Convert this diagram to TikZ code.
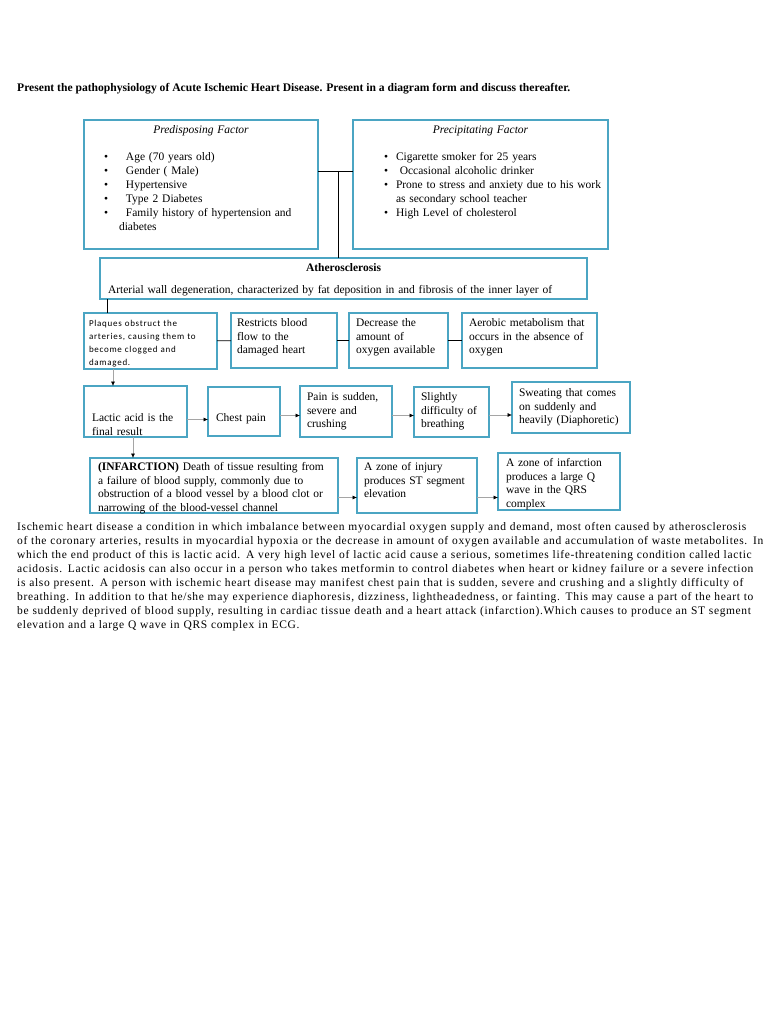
\documentclass[tikz,border=0pt]{standalone}
\usepackage{fontspec}
\setmainfont{Liberation Serif}
\newfontfamily\plaquefont{Carlito}[LetterSpace=8]
\newfontfamily\discussfont{Liberation Serif}[LetterSpace=5.5]
\usetikzlibrary{arrows.meta, positioning}
\definecolor{boxline}{RGB}{75,165,195}
\definecolor{arrowgray}{RGB}{165,165,165}
\newcommand{\factordot}[2]{\hspace*{#1}\makebox[#2][l]{\textbullet}}
\tikzset{
  box/.style={draw=boxline, line width=2.3pt, outer sep=0pt, anchor=north west, align=left, inner ysep=0pt, font=\fontsize{11.5}{13.5}\selectfont},
  dims/.style n args={3}{text width=#1, text height=#2, text depth=#3},
  link/.style={line width=0.8pt},
  flow/.style={-{Latex[length=4.5pt,width=4pt,color=black]}, draw=arrowgray, line width=0.6pt},
  note/.style={anchor=base west, align=left, inner sep=0pt}
}
\begin{document}
\begin{tikzpicture}[x=1pt, y=-1pt]
    \path[fill=white, use as bounding box] (0,0) rectangle (768,1024);

    \node[note, font=\bfseries\fontsize{11.6}{13.5}\selectfont] (title) at (17,91.5) {Present the pathophysiology of Acute Ischemic Heart Disease. Present in a diagram form and discuss thereafter.};

    % factors
    \node[box, inner xsep=8pt, dims={218pt}{13.5pt}{115.5pt}, font=\fontsize{11.5}{14}\selectfont] (pred) at (84,120) {\makebox[\linewidth]{\textit{Predisposing Factor}}\\[13pt]
    \factordot{12pt}{22pt}Age (70 years old)\\
    \factordot{12pt}{22pt}Gender ( Male)\\
    \factordot{12pt}{22pt}Hypertensive\\
    \factordot{12pt}{22pt}Type 2 Diabetes\\
    \factordot{12pt}{22pt}Family history of hypertension and\\
    \hspace*{27pt}diabetes};
    \node[box, inner xsep=7pt, dims={241pt}{13.5pt}{115.5pt}, font=\fontsize{11.5}{14}\selectfont, right=35pt of pred.north east, anchor=north west] (prec) {\makebox[\linewidth]{\textit{Precipitating Factor}}\\[13pt]
    \factordot{24pt}{12pt}Cigarette smoker for 25 years\\
    \factordot{24pt}{12pt} Occasional alcoholic drinker\\
    \factordot{24pt}{12pt}\mbox{Prone to stress and anxiety due to his work}\\
    \hspace*{36pt}as secondary school teacher\\
    \factordot{24pt}{12pt}High Level of cholesterol};

    \node[box, inner xsep=8pt, dims={471pt}{13.5pt}{27.5pt}, below=9pt of pred.south west, anchor=north west, xshift=16pt] (athero) {\makebox[\linewidth]{\textbf{Atherosclerosis}}\\[8pt]
    Arterial wall degeneration, characterized by fat deposition in and fibrosis of the inner layer of};

    % second row
    \node[box, inner xsep=5pt, dims={123pt}{13pt}{43pt}, font=\plaquefont\fontsize{9}{13}\selectfont] (plaques) at (84,313) {Plaques obstruct the\\arteries, causing them to\\become clogged and\\damaged.};
    \node[box, inner xsep=6pt, dims={94pt}{13.5pt}{41.5pt}, right=14pt of plaques.north east, anchor=north west] (restrict) {Restricts blood\\flow to the\\damaged heart};
    \node[box, inner xsep=7pt, dims={85pt}{13.5pt}{41.5pt}, right=12pt of restrict.north east, anchor=north west] (decrease) {Decrease the\\amount of\\oxygen available};
    \node[box, inner xsep=7pt, dims={121pt}{13.5pt}{41.5pt}, right=14pt of decrease.north east, anchor=north west] (aerobic) {Aerobic metabolism that\\occurs in the absence of\\oxygen};

    % third row
    \node[box, inner xsep=8pt, dims={87pt}{35.5pt}{15.5pt}] (lactic) at (84,386) {Lactic acid is the\\final result};
    \node[box, inner xsep=8pt, dims={56pt}{34.5pt}{14.5pt}, right=21pt of lactic.north east, anchor=north west, yshift=-1pt] (chest) {Chest pain};
    \node[box, inner xsep=7pt, dims={78pt}{14.5pt}{36.5pt}, right=20pt of chest.north east, anchor=north west, yshift=1pt] (pain) {Pain is sudden,\\severe and\\crushing};
    \node[box, inner xsep=7pt, dims={61pt}{13.5pt}{36.5pt}, right=22pt of pain.north east, anchor=north west, yshift=-1pt] (slight) {Slightly\\difficulty of\\breathing};
    \node[box, inner xsep=7pt, dims={104pt}{14.5pt}{36.5pt}, right=23pt of slight.north east, anchor=north west, yshift=5pt] (sweat) {Sweating that comes\\on suddenly and\\heavily (Diaphoretic)};

    % fourth row
    \node[box, inner xsep=8pt, dims={232pt}{12.5pt}{42.5pt}] (infarct) at (90,458) {\textbf{(INFARCTION)} Death of tissue resulting from\\a failure of blood supply, commonly due to\\obstruction of a blood vessel by a blood clot or\\narrowing of the blood-vessel channel};
    \node[box, inner xsep=7pt, dims={106pt}{12.5pt}{42.5pt}, right=19pt of infarct.north east, anchor=north west] (injury) {A zone of injury\\produces ST segment\\elevation};
    \node[box, inner xsep=8pt, dims={106pt}{13.5pt}{43.5pt}, right=21pt of injury.north east, anchor=north west, yshift=5pt] (zone) {A zone of infarction\\produces a large Q\\wave in the QRS\\complex};

    \draw[link] ([yshift=13.5pt]pred.east) -- ([yshift=13.5pt]pred.east -| prec.west);
    \draw[link] ([xshift=20pt,yshift=13.5pt]pred.east) -- ([xshift=20pt]pred.east |- athero.north);
    \draw[link] ([xshift=7pt]athero.south west) -- ([xshift=7pt]athero.south west |- plaques.north);
    \draw[link] (plaques) -- (restrict);
    \draw[link] (restrict) -- (decrease);
    \draw[link] (decrease) -- (aerobic);

    \draw[flow] ([xshift=29pt]plaques.south west) -- ([xshift=29pt]lactic.north west);
    \draw[flow] ([yshift=-8pt]lactic.east) -- ([yshift=-8pt]lactic.east -| chest.west);
    \draw[flow] ([yshift=-4pt]chest.east) -- ([yshift=-4pt]chest.east -| pain.west);
    \draw[flow] ([yshift=-4pt]pain.east) -- ([yshift=-4pt]pain.east -| slight.west);
    \draw[flow] ([yshift=-3pt]slight.east) -- ([yshift=-3pt]slight.east -| sweat.west);
    \draw[flow] ([xshift=49pt]lactic.south west) -- ([xshift=49pt]lactic.south west |- infarct.north);
    \draw[flow] ([yshift=-12pt]infarct.east) -- ([yshift=-12pt]infarct.east -| injury.west);
    \draw[flow] ([yshift=-12pt]injury.east) -- ([yshift=-12pt]injury.east -| zone.west);

    \node[note, text width=800pt, font=\discussfont\fontsize{11.5}{14}\selectfont] (discuss) at (17,530.5) {Ischemic heart disease a condition in which imbalance between myocardial oxygen supply and demand, most often caused by atherosclerosis\\
    of the coronary arteries, results in myocardial hypoxia or the decrease in amount of oxygen available and accumulation of waste metabolites. In\\
    which the end product of this is lactic acid. A very high level of lactic acid cause a serious, sometimes life-threatening condition called lactic\\
    acidosis. Lactic acidosis can also occur in a person who takes metformin to control diabetes when heart or kidney failure or a severe infection\\
    is also present. A person with ischemic heart disease may manifest chest pain that is sudden, severe and crushing and a slightly difficulty of\\
    breathing. In addition to that he/she may experience diaphoresis, dizziness, lightheadedness, or fainting. This may cause a part of the heart to\\
    be suddenly deprived of blood supply, resulting in cardiac tissue death and a heart attack (infarction).Which causes to produce an ST segment\\
    elevation and a large Q wave in QRS complex in ECG.};
\end{tikzpicture}
\end{document}
